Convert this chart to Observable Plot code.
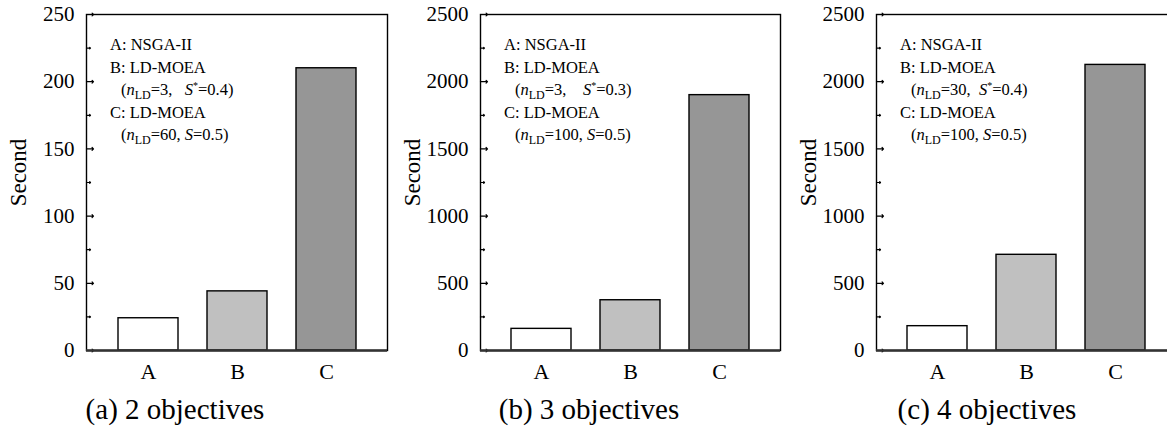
<!DOCTYPE html>
<html>
<head>
<meta charset="utf-8">
<script src="https://cdn.jsdelivr.net/npm/d3@7"></script>
<script src="https://cdn.jsdelivr.net/npm/@observablehq/plot@0.6"></script>
<style>
  html, body { margin: 0; padding: 0; background: #fff; }
  #wrap { position: relative; width: 1167px; height: 429px; overflow: hidden; background: #fff; font-family: "Liberation Serif", "DejaVu Serif", serif; }
  .panel { position: absolute; top: 0; }
  .panel svg { max-width: none !important; display: block; }
  .caption { position: absolute; top: 395px; font-size: 29px; line-height: 1; white-space: nowrap; transform: translateX(-50%); color: #000; }
</style>
</head>
<body>
<div id="wrap"></div>
<script>
// ---- data ----
const categories = ["A", "B", "C"];
const fills = ["#ffffff", "#c0c0c0", "#969696"];
const seconds2obj = [24, 44, 210];
const seconds3obj = [161, 374, 1900];
const seconds4obj = [181, 712, 2125];
const captions = ["(a) 2 objectives", "(b) 3 objectives", "(c) 4 objectives"];
const yMax = [250, 2500, 2500];
const majorTicks2 = [0, 50, 100, 150, 200, 250];
const minorTicks2 = [25, 75, 125, 175, 225];
const majorTicks34 = [0, 500, 1000, 1500, 2000, 2500];
const minorTicks34 = [250, 750, 1250, 1750, 2250];
const yLabel = "Second";
// legend lines: segments {t, i (italic), sub, sup}
const legendA = [[{t: "A: NSGA-II"}], [{t: "B: LD-MOEA"}]];
const legendB2 = [{t: "("}, {t: "n", i: true}, {t: "LD", sub: true}, {t: "=3,   "}, {t: "S", i: true}, {t: "*", sup: true}, {t: "=0.4)"}];
const legendB3 = [{t: "("}, {t: "n", i: true}, {t: "LD", sub: true}, {t: "=3,    "}, {t: "S", i: true}, {t: "*", sup: true}, {t: "=0.3)"}];
const legendB4 = [{t: "("}, {t: "n", i: true}, {t: "LD", sub: true}, {t: "=30,  "}, {t: "S", i: true}, {t: "*", sup: true}, {t: "=0.4)"}];
const legendC2 = [{t: "("}, {t: "n", i: true}, {t: "LD", sub: true}, {t: "=60, "}, {t: "S", i: true}, {t: "=0.5)"}];
const legendC34 = [{t: "("}, {t: "n", i: true}, {t: "LD", sub: true}, {t: "=100, "}, {t: "S", i: true}, {t: "=0.5)"}];

const panels = [
  {values: seconds2obj, major: majorTicks2, minor: minorTicks2, max: yMax[0], caption: captions[0],
   legend: [legendA[0], legendA[1], legendB2, [{t: "C: LD-MOEA"}], legendC2], left: 0, marginLeft: 86, width: 390, capX: 175},
  {values: seconds3obj, major: majorTicks34, minor: minorTicks34, max: yMax[1], caption: captions[1],
   legend: [legendA[0], legendA[1], legendB3, [{t: "C: LD-MOEA"}], legendC34], left: 392, marginLeft: 88, width: 391, capX: 589},
  {values: seconds4obj, major: majorTicks34, minor: minorTicks34, max: yMax[2], caption: captions[2],
   legend: [legendA[0], legendA[1], legendB4, [{t: "C: LD-MOEA"}], legendC34], left: 784, marginLeft: 92, width: 395, capX: 987}
];

function legendMark(lines) {
  return (index, scales, values, dims) => {
    const g = d3.create("svg:g")
      .attr("font-family", "Liberation Serif, DejaVu Serif, serif")
      .attr("font-size", 16.5)
      .attr("text-anchor", "start")
      .attr("fill", "#000");
    const x0 = dims.marginLeft + 24;
    const y0 = dims.marginTop + 36;
    lines.forEach((segs, k) => {
      const indent = (k === 2 || k === 4) ? 11 : 0;
      const text = g.append("text")
        .attr("x", x0 + indent)
        .attr("y", y0 + k * 22.5)
        .attr("text-anchor", "start")
        .style("white-space", "pre");
      let shift = 0;
      segs.forEach(s => {
        const ts = text.append("tspan").text(s.t);
        if (s.i) ts.attr("font-style", "italic");
        let target = 0;
        if (s.sub) { target = 4; ts.attr("font-size", 12); }
        if (s.sup) { target = -6; ts.attr("font-size", 10); }
        if (target !== shift) { ts.attr("dy", target - shift); shift = target; }
      });
    });
    return g.node();
  };
}

const wrap = document.getElementById("wrap");
panels.forEach(p => {
  const data = categories.map((c, i) => ({cat: c, v: p.values[i], fill: fills[i]}));
  const chart = Plot.plot({
    width: p.width,
    height: 392,
    marginLeft: p.marginLeft,
    marginRight: 3,
    marginTop: 14,
    marginBottom: 42,
    style: {fontFamily: "Liberation Serif, DejaVu Serif, serif", fontSize: "21px", color: "#000", background: "#fff", overflow: "visible", maxWidth: "none"},
    x: {domain: categories, paddingInner: 0.33, paddingOuter: 0.34, label: null},
    y: {domain: [0, p.max], label: null},
    marks: [
      Plot.frame({stroke: "#000", strokeWidth: 1.4}),
      Plot.barY(data, {x: "cat", y: "v", fill: "fill", stroke: "#000", strokeWidth: 1.4}),
      Plot.axisX({tickSize: 0, tickPadding: 13, fontSize: 22}),
      Plot.axisY({ticks: p.major, tickSize: 0, tickPadding: 12, fontSize: 21, tickFormat: d => String(d)}),
      Plot.vector(p.major, {y: d => d, frameAnchor: "left", rotate: 90, length: 7, anchor: "start", stroke: "#000", strokeWidth: 1.2}),
      Plot.vector(p.minor, {y: d => d, frameAnchor: "left", rotate: 90, length: 4, anchor: "start", stroke: "#000", strokeWidth: 1.2}),
      Plot.ruleY([0], {stroke: "#333", strokeWidth: 2.5}),
      Plot.text([yLabel], {frameAnchor: "left", dx: -68, dy: -10, rotate: -90, textAnchor: "middle", fontSize: 23, fill: "#000"}),
      legendMark(p.legend)
    ]
  });
  const div = document.createElement("div");
  div.className = "panel";
  div.style.left = p.left + "px";
  div.style.width = p.width + "px";
  div.appendChild(chart);
  wrap.appendChild(div);
  const cap = document.createElement("div");
  cap.className = "caption";
  cap.style.left = p.capX + "px";
  cap.textContent = p.caption;
  wrap.appendChild(cap);
});
</script>
</body>
</html>
